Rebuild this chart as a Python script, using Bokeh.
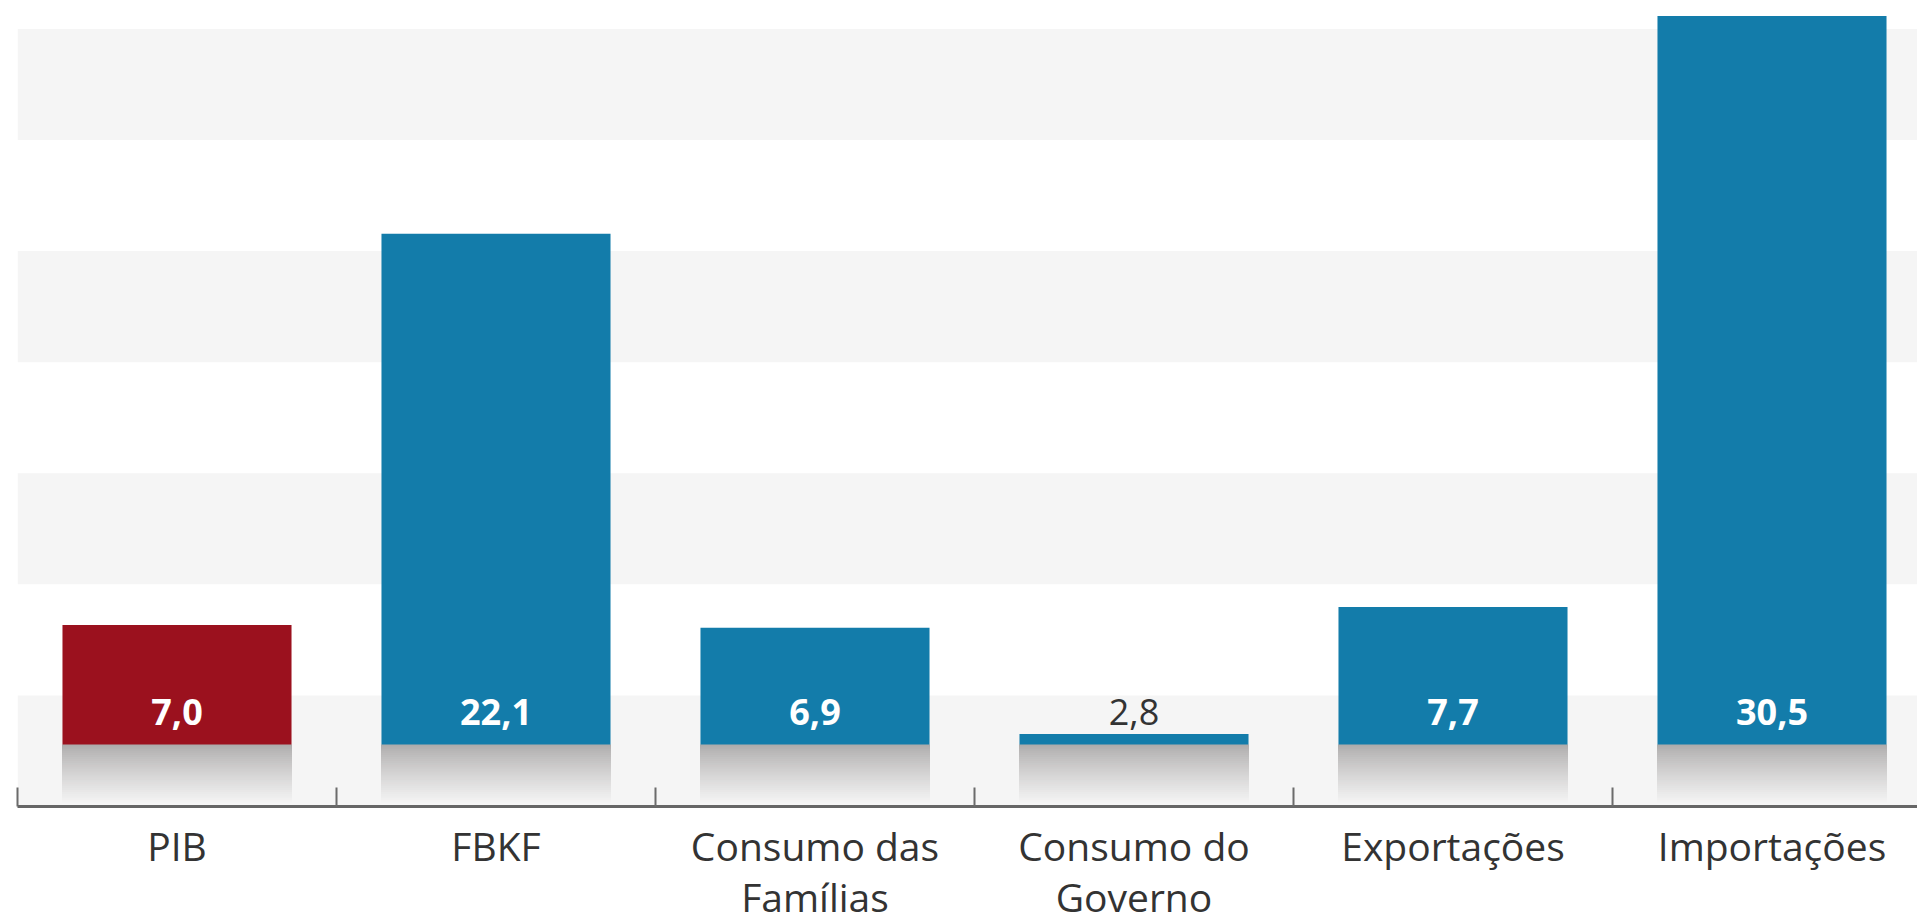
import numpy as np
from bokeh.plotting import figure
from bokeh.models import Range1d, FixedTicker, BoxAnnotation
from bokeh.core.properties import value
from bokeh.embed import file_html
from bokeh.resources import INLINE

# ---- data ----
categories = ["PIB", "FBKF", "Consumo das\nFamílias", "Consumo do\nGoverno", "Exportações", "Importações"]
values = [7.0, 22.1, 6.9, 2.8, 7.7, 30.5]
value_labels = ["7,0", "22,1", "6,9", "2,8", "7,7", "30,5"]
bar_colors = ["#9b111e", "#137caa", "#137caa", "#137caa", "#137caa", "#137caa"]
band_top = 30.0
n_bands = 7

# ---- layout ----
px_per_cat = 319.0
px_per_unit = 25.92
frame_w, frame_h = 1900, 806

p = figure(frame_width=frame_w, frame_height=frame_h,
           x_range=Range1d(0, frame_w / px_per_cat),
           y_range=Range1d(0, frame_h / px_per_unit),
           output_backend="svg", toolbar_location=None,
           min_border_left=17, min_border_right=0, min_border_top=0, min_border_bottom=0)
p.outline_line_color = None
p.grid.visible = False
p.yaxis.visible = False
p.background_fill_color = "white"
p.border_fill_color = "white"

# background bands
edges = np.linspace(0, band_top, n_bands + 1)
for i in range(n_bands):
    if i % 2 == 0:
        p.add_layout(BoxAnnotation(bottom=edges[i], top=edges[i + 1],
                                   fill_color="#f5f5f5", fill_alpha=1.0,
                                   line_color=None, level="underlay"))

n = len(categories)
centers = [i + 0.5 for i in range(n)]
bar_w = 0.718

p.vbar(x=centers, top=values, bottom=0, width=bar_w, fill_color=bar_colors, line_color=None)

# floor shadow (gradient approximated by overlapping strips)
shadow_top = 2.39
n_strips = 30
c_top = np.array([0xae, 0xac, 0xac])
c_bot = np.array([0xf7, 0xf7, 0xf7])
sx, st, sc = [], [], []
for k in range(n_strips):
    y1 = shadow_top - k * shadow_top / n_strips
    t = k / (n_strips - 1)
    col = c_top + (c_bot - c_top) * (t ** 0.85)
    hexc = "#%02x%02x%02x" % tuple(int(round(v)) for v in col)
    for cx in centers:
        sx.append(cx); st.append(y1); sc.append(hexc)
p.vbar(x=sx, bottom=0, top=st, width=bar_w + 0.003, fill_color=sc, line_color=None)

# value labels
label_y = 3.63
inside = [v > label_y + 1.0 for v in values]
lab_colors = ["white" if ins else "#333333" for ins in inside]
lab_styles = ["bold" if ins else "normal" for ins in inside]
p.text(x=centers, y=[label_y] * n, text=value_labels, text_align="center",
       text_baseline="middle", text_color=lab_colors, text_font_style=lab_styles,
       text_font=value("Open Sans"), text_font_size="36px")

# axis
ax = p.xaxis[0]
ax.ticker = FixedTicker(ticks=centers, minor_ticks=list(range(n + 1)))
ax.major_label_overrides = {c: lab for c, lab in zip(centers, categories)}
ax.major_tick_line_color = None
ax.major_tick_in = 0
ax.major_tick_out = 0
ax.minor_tick_in = 19
ax.minor_tick_out = 0
ax.minor_tick_line_color = "#6b6b6b"
ax.minor_tick_line_width = 2
ax.axis_line_color = "#666666"
ax.axis_line_width = 3
ax.major_label_text_font = "Open Sans"
ax.major_label_text_font_size = "39px"
ax.major_label_text_color = "#333333"
ax.major_label_text_line_height = 0.98
ax.major_label_standoff = 12
ax.major_label_orientation = "horizontal"

open("out.html", "w").write(file_html(p, INLINE))
